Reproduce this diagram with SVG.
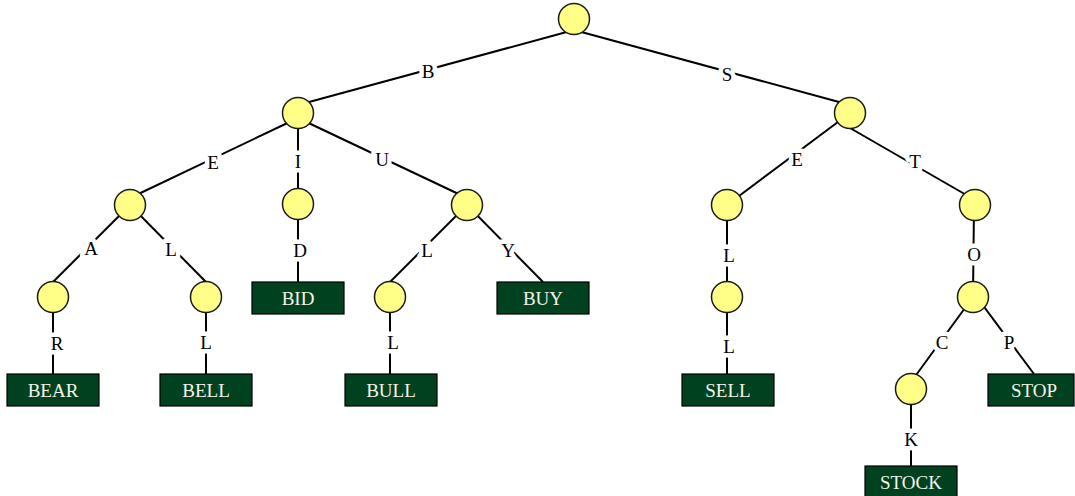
<svg xmlns="http://www.w3.org/2000/svg" width="1075" height="496" viewBox="0 0 1075 496">
  <style>
    .edge { stroke: #000; stroke-width: 2; fill: none; }
    .node { fill: #ffff88; stroke: #1a1a1a; stroke-width: 1.5; }
    .leaf rect { fill: #00421f; stroke: #000; stroke-width: 1.2; }
    .leaf text { fill: #f4f4e8; font-family: "Liberation Serif", "Times New Roman", serif; font-size: 19px; text-anchor: middle; }
    .lbl { fill: #000; font-family: "Liberation Serif", "Times New Roman", serif; font-size: 19px; text-anchor: middle;
           stroke: #fff; stroke-width: 9; stroke-linejoin: round; paint-order: stroke; }
  </style>
  <rect width="1075" height="496" fill="#fff"/>

  <!-- connectors -->
  <g id="edges">
    <line class="edge" x1="574" y1="30" x2="298" y2="105"/>
    <line class="edge" x1="574" y1="30" x2="850" y2="105"/>
    <line class="edge" x1="298" y1="118" x2="130" y2="198"/>
    <line class="edge" x1="298" y1="113" x2="298" y2="204"/>
    <line class="edge" x1="298" y1="118" x2="467" y2="198"/>
    <line class="edge" x1="130" y1="205" x2="53" y2="282"/>
    <line class="edge" x1="130" y1="205" x2="206" y2="282"/>
    <line class="edge" x1="298" y1="204" x2="298" y2="282"/>
    <line class="edge" x1="467" y1="205" x2="390" y2="282"/>
    <line class="edge" x1="467" y1="205" x2="543" y2="282"/>
    <line class="edge" x1="53" y1="297" x2="53" y2="374"/>
    <line class="edge" x1="206" y1="297" x2="206" y2="374"/>
    <line class="edge" x1="390" y1="297" x2="390" y2="374"/>
    <line class="edge" x1="850" y1="113" x2="727" y2="205"/>
    <line class="edge" x1="850" y1="128" x2="975" y2="200"/>
    <line class="edge" x1="727" y1="205" x2="727" y2="297"/>
    <line class="edge" x1="727" y1="297" x2="727" y2="374"/>
    <line class="edge" x1="974" y1="205" x2="973" y2="297"/>
    <line class="edge" x1="973" y1="297" x2="911" y2="382"/>
    <line class="edge" x1="973" y1="292" x2="1034" y2="374"/>
    <line class="edge" x1="911" y1="389" x2="911" y2="466"/>

    <!-- edge letters -->
    <text class="lbl" x="428" y="78">B</text>
    <text class="lbl" x="727" y="81">S</text>
    <text class="lbl" x="213" y="169">E</text>
    <text class="lbl" x="298" y="168">I</text>
    <text class="lbl" x="382" y="166">U</text>
    <text class="lbl" x="91" y="255">A</text>
    <text class="lbl" x="171" y="256">L</text>
    <text class="lbl" x="300" y="257">D</text>
    <text class="lbl" x="427" y="257">L</text>
    <text class="lbl" x="508" y="257">Y</text>
    <text class="lbl" x="57" y="350">R</text>
    <text class="lbl" x="206" y="349">L</text>
    <text class="lbl" x="393" y="349">L</text>
    <text class="lbl" x="797" y="166">E</text>
    <text class="lbl" x="915" y="168">T</text>
    <text class="lbl" x="729" y="262">L</text>
    <text class="lbl" x="729" y="353">L</text>
    <text class="lbl" x="974" y="261">O</text>
    <text class="lbl" x="942" y="349">C</text>
    <text class="lbl" x="1009" y="349">P</text>
    <text class="lbl" x="911" y="446">K</text>
  </g>

  <!-- inner nodes -->
  <g id="n-root"><circle class="node" cx="574" cy="19" r="15.5"/></g>
  <g id="n-b"><circle class="node" cx="298" cy="113" r="15.5"/></g>
  <g id="n-s"><circle class="node" cx="850" cy="113" r="15.5"/></g>
  <g id="n-be"><circle class="node" cx="130" cy="205" r="15.5"/></g>
  <g id="n-bi"><circle class="node" cx="298" cy="204" r="15.5"/></g>
  <g id="n-bu"><circle class="node" cx="467" cy="205" r="15.5"/></g>
  <g id="n-bea"><circle class="node" cx="53" cy="297" r="15.5"/></g>
  <g id="n-bel"><circle class="node" cx="206" cy="297" r="15.5"/></g>
  <g id="n-bul"><circle class="node" cx="390" cy="297" r="15.5"/></g>
  <g id="n-se"><circle class="node" cx="727" cy="205" r="15.5"/></g>
  <g id="n-st"><circle class="node" cx="975" cy="205" r="15.5"/></g>
  <g id="n-sel"><circle class="node" cx="727" cy="297" r="15.5"/></g>
  <g id="n-sto"><circle class="node" cx="973" cy="297" r="15.5"/></g>
  <g id="n-stoc"><circle class="node" cx="911" cy="389" r="15.5"/></g>

  <!-- word leaves -->
  <g id="w-bear" class="leaf"><rect x="7" y="374" width="92" height="32"/><text x="53" y="397">BEAR</text></g>
  <g id="w-bell" class="leaf"><rect x="160" y="374" width="92" height="32"/><text x="206" y="397">BELL</text></g>
  <g id="w-bid" class="leaf"><rect x="252" y="282" width="92" height="32"/><text x="298" y="305">BID</text></g>
  <g id="w-bull" class="leaf"><rect x="345" y="374" width="92" height="32"/><text x="391" y="397">BULL</text></g>
  <g id="w-buy" class="leaf"><rect x="497" y="282" width="92" height="32"/><text x="543" y="305">BUY</text></g>
  <g id="w-sell" class="leaf"><rect x="682" y="374" width="92" height="32"/><text x="728" y="397">SELL</text></g>
  <g id="w-stop" class="leaf"><rect x="988" y="374" width="86" height="32"/><text x="1034" y="397">STOP</text></g>
  <g id="w-stock" class="leaf"><rect x="865" y="466" width="92" height="32"/><text x="911" y="489">STOCK</text></g>
</svg>
